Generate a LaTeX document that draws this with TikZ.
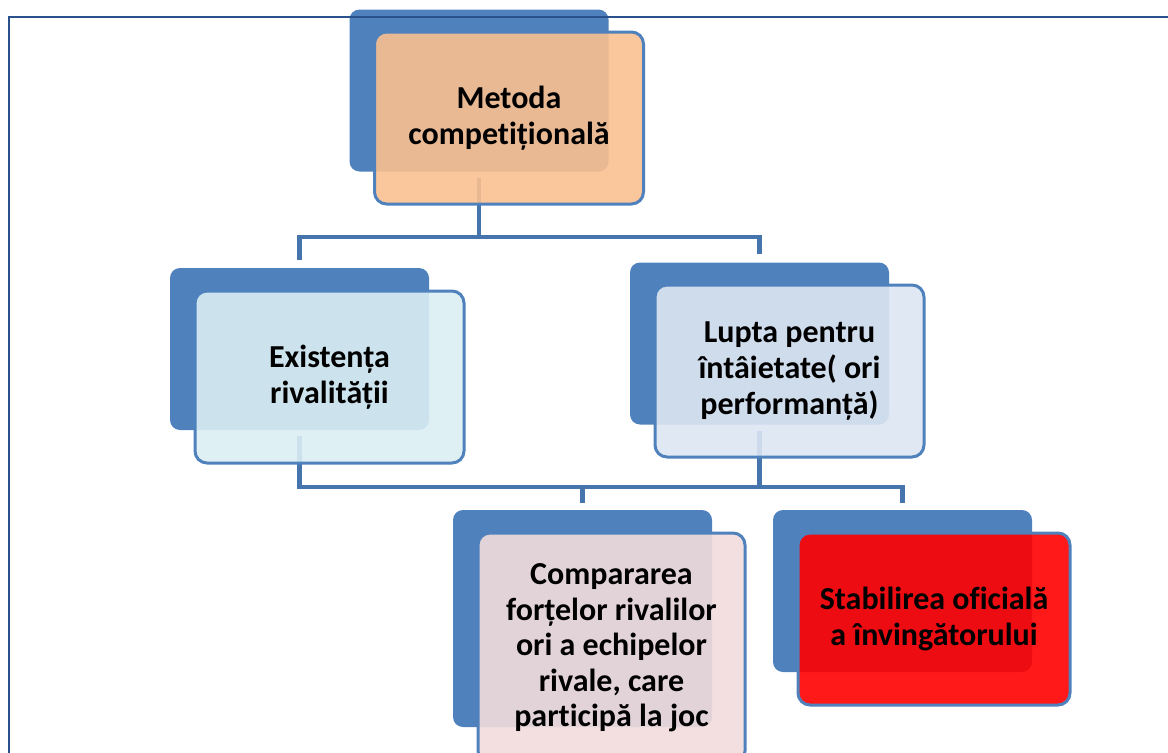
\documentclass[tikz,border=0pt]{standalone}
\usepackage{fontspec}
\setmainfont{Carlito}[Ligatures={NoCommon}]
\usetikzlibrary{calc}
\pgfdeclarelayer{bg}
\pgfsetlayers{bg,main}
\definecolor{backblue}{HTML}{4F81BD}
\definecolor{connblue}{HTML}{4674AD}
\definecolor{framecol}{HTML}{29528C}
\definecolor{peachfill}{HTML}{FAC090}
\definecolor{lbluefill}{HTML}{DAEEF3}
\definecolor{rbluefill}{HTML}{DCE6F2}
\definecolor{pinkfill}{HTML}{F2DCDB}
\definecolor{redfill}{HTML}{FF0000}
\begin{document}
\begin{tikzpicture}[x=0.75pt,y=-0.75pt,
  backbox/.style={rectangle, rounded corners=7.5pt, fill=backblue,
    minimum width=194.25pt, minimum height=121.5pt, inner sep=0pt},
  frontbox/.style={rectangle, rounded corners=9pt, draw=backblue, line width=2.25pt,
    fill opacity=0.9, draw opacity=1, text opacity=1,
    minimum width=201.75pt, minimum height=129pt, inner sep=0pt, align=center,
    font=\bfseries\fontsize{24}{26.7}\selectfont},
  conn/.style={draw=connblue, line width=3.5pt},
  frame/.style={draw=framecol, line width=2.2pt}
]
\useasboundingbox (0,0) rectangle (1168,753);
\clip (0,0) rectangle (1168,753);

\node[backbox] (topB) at (479,90.5) {};
\node[frontbox, fill=peachfill] (topF) at (509,118) {Metoda\\competițională};

\node[backbox] (leftB) at (299.5,349) {};
\node[frontbox, fill=lbluefill] (leftF) at (329.5,377) {Existența\\rivalității};

\node[backbox] (rightB) at (759.5,343.5) {};
\node[frontbox, fill=rbluefill] (rightF) at (789.5,371) {Lupta pentru\\întâietate( ori\\performanță)};

\node[backbox, minimum height=162.75pt] (cmpB) at (582.5,618.5) {};
\node[frontbox, fill=pinkfill, minimum width=200.25pt, minimum height=172.5pt] (cmpF) at (611.5,648) {Compararea\\forțelor rivalilor\\ori a echipelor\\rivale, care\\participă la joc};

\node[backbox] (sbB) at (902.5,591) {};
\node[frontbox, fill=redfill, minimum width=204pt] (sbF) at (934,619) {Stabilirea oficială\\a învingătorului};

\begin{pgfonlayer}{bg}
\coordinate (busA) at (479,237);
\coordinate (busB) at (583,487);
\draw[conn] ($(topB.south)+(0,6)$) -- (topB.south |- busA);
\draw[conn] ($(leftB.north)+(0,-8)$) |- (busA -| rightB.north) -- ($(rightB.north)+(0,-8)$);
\draw[conn] ($(leftB.south)+(0,6)$) |- (busB -| sbB.north) -- ($(sbB.north)+(0,-7)$);
\draw[conn] ($(rightB.south)+(0,6)$) -- (rightB.south |- busB);
\draw[conn] (busB -| cmpB.north) -- ($(cmpB.north)+(0,-7)$);
\end{pgfonlayer}

\draw[frame] (9,17) rectangle (1200,800);
\end{tikzpicture}
\end{document}
